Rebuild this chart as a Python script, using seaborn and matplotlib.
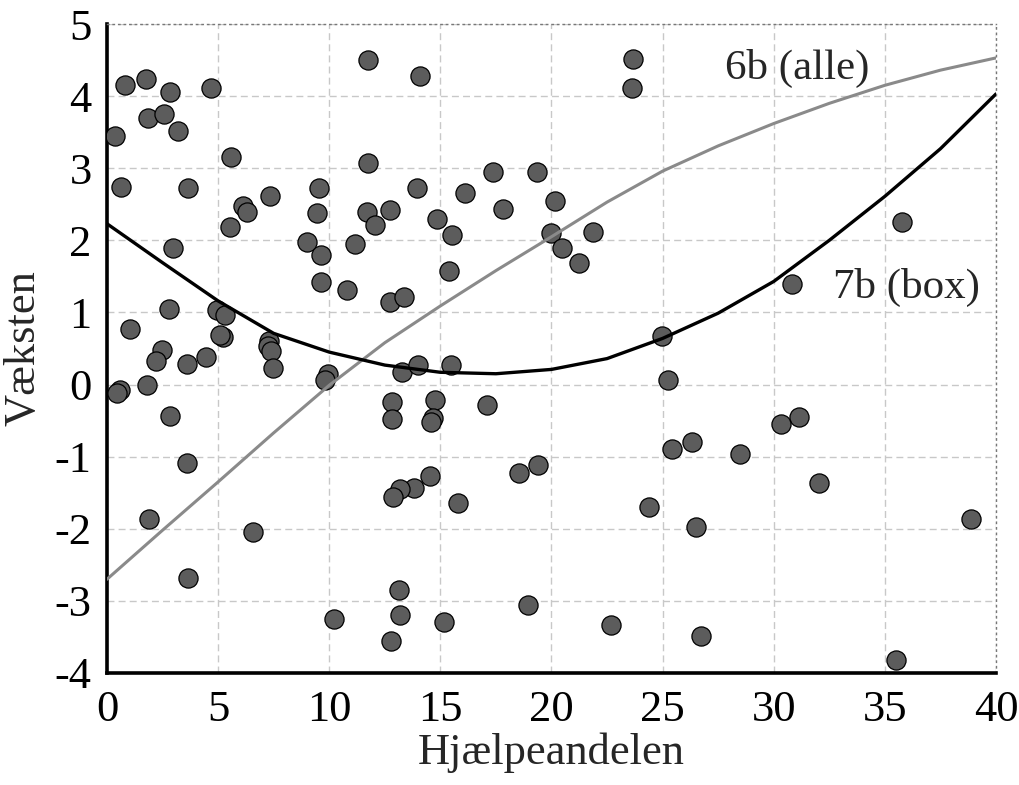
import numpy as np
import pandas as pd
import matplotlib
matplotlib.use("Agg")
import matplotlib.pyplot as plt
import seaborn as sns

# ---- data ----
hjaelp = [11.74, 14.10, 0.82, 1.77, 2.85, 4.67, 1.84, 2.56, 3.18, 0.35,
          5.56, 11.74, 0.64, 3.66, 9.54, 13.93, 7.33, 6.14, 6.32, 9.45,
          11.71, 12.74, 12.08, 14.85, 5.53, 8.98, 9.63, 11.16, 2.97, 9.62,
          10.80, 12.74, 13.38, 15.41, 1.05, 2.79, 4.95, 5.32, 5.23, 5.08,
          7.29, 2.47, 2.22, 3.60, 4.44, 7.26, 7.36, 7.45, 9.93, 9.83,
          0.59, 0.47, 1.81, 2.85, 3.62, 1.90, 6.55, 3.63, 13.27, 13.98,
          15.50, 12.83, 12.83, 14.77, 14.67, 14.58, 14.52, 13.80, 13.20, 12.85,
          13.16, 13.18, 12.79, 10.23, 15.18, 23.65, 23.62, 17.36, 19.35, 16.13,
          17.81, 20.14, 15.54, 19.97, 20.48, 21.85, 21.25, 24.97, 17.09, 25.23,
          25.41, 18.54, 19.41, 15.78, 24.41, 18.96, 22.67, 35.75, 30.83, 31.15,
          30.32, 26.33, 28.49, 32.03, 26.50, 38.87, 26.71, 35.49]
vaekst = [4.50, 4.28, 4.16, 4.24, 4.06, 4.11, 3.69, 3.75, 3.52, 3.45,
          3.15, 3.07, 2.74, 2.73, 2.72, 2.73, 2.61, 2.47, 2.39, 2.38,
          2.39, 2.42, 2.21, 2.29, 2.19, 1.98, 1.80, 1.95, 1.89, 1.42,
          1.31, 1.14, 1.21, 1.58, 0.77, 1.05, 1.03, 0.97, 0.66, 0.69,
          0.60, 0.48, 0.32, 0.28, 0.38, 0.54, 0.47, 0.23, 0.15, 0.07,
          -0.07, -0.12, -0.01, -0.43, -1.09, -1.86, -2.05, -2.68, 0.18, 0.27,
          0.27, -0.24, -0.48, -0.21, -0.47, -0.52, -1.27, -1.43, -1.45, -1.56,
          -2.85, -3.19, -3.56, -3.25, -3.29, 4.51, 4.11, 2.95, 2.95, 2.65,
          2.43, 2.55, 2.08, 2.10, 1.90, 2.11, 1.69, 0.68, -0.28, 0.07,
          -0.90, -1.23, -1.12, -1.64, -1.70, -3.06, -3.34, 2.26, 1.40, -0.45,
          -0.55, -0.80, -0.96, -1.36, -1.98, -1.86, -3.49, -3.82]

curve_x = [0, 2.5, 5, 7.5, 10, 12.5, 15, 17.5, 20, 22.5, 25, 27.5, 30, 32.5, 35, 37.5, 40]
curve_6b = [-2.70, -2.02, -1.35, -0.67, -0.01, 0.58, 1.09, 1.58, 2.05, 2.53, 2.96, 3.31,
            3.62, 3.90, 4.15, 4.36, 4.53]
curve_7b = [2.23, 1.69, 1.16, 0.71, 0.45, 0.27, 0.17, 0.15, 0.21, 0.36, 0.64, 0.99,
            1.43, 2.00, 2.61, 3.27, 4.03]

x_ticks = [0, 5, 10, 15, 20, 25, 30, 35, 40]
y_ticks = [-4, -3, -2, -1, 0, 1, 2, 3, 4, 5]
label_6b = "6b (alle)"
label_7b = "7b (box)"

pts = pd.DataFrame({"x": hjaelp, "y": vaekst})
lines = pd.DataFrame({"x": curve_x, "6b": curve_6b, "7b": curve_7b})

sns.set_theme(style="white")
plt.rcParams["font.family"] = ["Liberation Serif", "DejaVu Serif"]

fig = plt.figure(figsize=(10.19, 7.85), dpi=100)
ax = fig.add_axes([0.105, 0.1427, 0.8724, 0.8267])

sns.scatterplot(data=pts, x="x", y="y", ax=ax, s=190, color="#5c5c5c",
                edgecolor="black", linewidth=0.9, zorder=3, legend=False)
sns.lineplot(data=lines, x="x", y="6b", ax=ax, color="#8a8a8a", linewidth=2.2,
             zorder=4, legend=False)
sns.lineplot(data=lines, x="x", y="7b", ax=ax, color="black", linewidth=2.4,
             zorder=4, legend=False)

ax.set_xlim(0, 40)
ax.set_ylim(-4, 5)
ax.set_xticks(x_ticks)
ax.set_yticks(y_ticks)
ax.set_xticklabels([str(t) for t in x_ticks])
ax.set_yticklabels([str(t) for t in y_ticks])
ax.tick_params(axis="both", length=0, labelsize=32, colors="black")
ax.tick_params(axis="x", pad=12)
ax.tick_params(axis="y", pad=11)

ax.grid(True, color="#c8c8c8", linestyle=(0, (5, 3)), linewidth=1.0, zorder=0)
ax.set_axisbelow(True)

for side in ["left", "bottom"]:
    ax.spines[side].set_color("black")
    ax.spines[side].set_linewidth(2.6)
for side in ["top", "right"]:
    ax.spines[side].set_color("#777777")
    ax.spines[side].set_linewidth(1.0)
    ax.spines[side].set_linestyle((0, (1, 3)))

ax.set_xlabel("Hjælpeandelen", fontsize=32, labelpad=2)
ax.set_ylabel("Væksten", fontsize=32, labelpad=8)

ax.text(31.05, 4.39, label_6b, fontsize=31, ha="center", va="center", zorder=5)
ax.text(35.95, 1.34, label_7b, fontsize=31, ha="center", va="center", zorder=5)

fig.savefig("out.png", dpi=100)
